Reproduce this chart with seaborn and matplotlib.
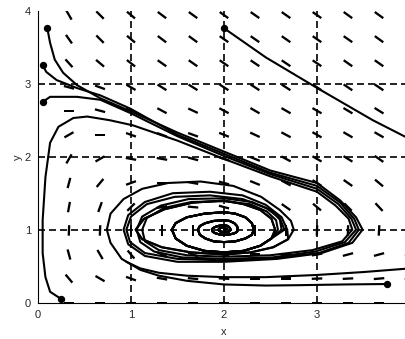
import matplotlib
matplotlib.use("Agg")
import numpy as np
import matplotlib.pyplot as plt
import seaborn as sns

# direction field sample points
field_x = [0, 0.333, 0.667, 1, 1.333, 1.667, 2, 2.333, 2.667, 3, 3.333, 3.667, 4]
field_y = [0, 0.33, 0.66, 0.99, 1.31, 1.64, 1.97, 2.30, 2.63, 2.95, 3.28, 3.61, 3.94]
# angle of each dash on screen (degrees), one row per field_y, bottom row first
field_angle = [
    [90, 0, 0, 0, 0, 0, 0, 0, 0, 0, 0, 0, 0],
    [90, -50, -30, -20, -10, -5, -3, 0, 0, 2, 3, 5, 5],
    [90, -75, -60, -50, -25, -20, -10, 0, 5, 10, 15, 15, 15],
    [90, 88, 88, 90, 90, 90, 90, 90, 90, 88, 88, 87, 87],
    [90, 80, 70, 45, 10, -5, -15, -25, -35, -40, -45, -47, -50],
    [90, 75, 50, 20, 0, -10, -15, -22, -28, -33, -35, -40, -40],
    [90, 60, 30, -10, -10, -15, -18, -22, -28, -30, -32, -35, -35],
    [90, 30, 0, -20, -20, -20, -22, -25, -28, -30, -30, -30, -30],
    [90, 0, -15, -25, -28, -25, -28, -30, -30, -30, -31, -32, -32],
    [90, -15, -20, -30, -32, -32, -33, -33, -33, -33, -34, -34, -34],
    [90, -48, -40, -38, -35, -35, -35, -34, -34, -34, -35, -35, -35],
    [90, -55, -45, -40, -37, -36, -35, -35, -35, -35, -35, -36, -36],
    [90, -60, -45, -40, -37, -36, -36, -35, -35, -35, -36, -36, -36],
]

# initial points
start_x = [0.10, 0.05, 0.05, 0.25, 2.0, 3.75]
start_y = [3.76, 3.25, 2.75, 0.05, 3.76, 0.256]

# inner part of the spiral, shared by the orbits that wind in
core_x = [2.69, 2.53, 2.29, 2.0, 1.64, 1.33, 1.12, 1.05, 1.14, 1.36, 1.66, 2.0, 2.21, 2.39, 2.51, 2.55,
          2.51, 2.39, 2.21, 2.0, 1.79, 1.6, 1.48, 1.44, 1.48, 1.6, 1.79, 2.0, 2.12, 2.23, 2.3, 2.32,
          2.3, 2.23, 2.12, 2.0, 1.89, 1.8, 1.74, 1.72, 1.74, 1.8, 1.89, 2.0, 2.06, 2.11, 2.14, 2.15,
          2.14, 2.11, 2.06, 2.0, 1.95, 1.91, 1.88, 1.87, 1.88, 1.91, 1.95, 2.0, 2.03, 2.05, 2.065, 2.07,
          2.05, 2.0, 1.95, 1.94, 1.96, 2.0, 2.03, 2.0]
core_y = [0.87, 0.76, 0.69, 0.66, 0.69, 0.76, 0.87, 1.0, 1.15, 1.28, 1.37, 1.4, 1.35, 1.27, 1.15, 1.0,
          0.88, 0.78, 0.71, 0.69, 0.71, 0.78, 0.88, 1.0, 1.09, 1.17, 1.22, 1.24, 1.22, 1.17, 1.09, 1.0,
          0.93, 0.88, 0.84, 0.83, 0.84, 0.88, 0.93, 1.0, 1.05, 1.09, 1.12, 1.13, 1.12, 1.09, 1.05, 1.0,
          0.97, 0.95, 0.935, 0.93, 0.935, 0.95, 0.97, 1.0, 1.02, 1.04, 1.055, 1.06, 1.055, 1.04, 1.02, 1.0,
          0.97, 0.965, 0.98, 1.0, 1.03, 1.03, 1.01, 0.99]

orbit_a_x = [0.10, 0.13, 0.18, 0.27, 0.42, 0.67, 1.0, 1.5, 2.0, 2.5, 3.0, 3.25, 3.42, 3.49,
             3.38, 3.05, 2.57, 2.0, 1.5, 1.15, 0.97, 0.92, 0.97, 1.15, 1.45, 1.85, 2.2, 2.45, 2.62, 2.68]
orbit_a_y = [3.76, 3.56, 3.33, 3.15, 2.98, 2.8, 2.62, 2.33, 2.07, 1.81, 1.64, 1.4, 1.17, 1.0,
             0.82, 0.68, 0.6, 0.56, 0.56, 0.64, 0.8, 1.0, 1.2, 1.38, 1.5, 1.52, 1.47, 1.34, 1.17, 1.0]

orbit_b_x = [0.05, 0.09, 0.2, 0.42, 0.67, 0.99, 1.5, 2.0, 2.5, 3.0, 3.25, 3.4, 3.45,
             3.34, 3.02, 2.55, 2.0, 1.5, 1.15, 0.99, 0.95, 1.0, 1.17, 1.47, 1.85, 2.2, 2.45, 2.6, 2.65]
orbit_b_y = [3.25, 3.16, 3.05, 2.94, 2.84, 2.66, 2.3, 2.04, 1.78, 1.6, 1.37, 1.15, 1.0,
             0.82, 0.68, 0.61, 0.58, 0.6, 0.68, 0.83, 1.0, 1.18, 1.35, 1.45, 1.47, 1.42, 1.3, 1.16, 1.0]

orbit_c_x = [0.05, 0.13, 0.42, 0.67, 0.99, 1.5, 2.0, 2.5, 3.0, 3.23, 3.37, 3.42,
             3.3, 2.98, 2.52, 2.0, 1.55, 1.25, 1.1, 1.06, 1.12, 1.32, 1.62, 2.0, 2.3, 2.5, 2.6, 2.62]
orbit_c_y = [2.75, 2.82, 2.82, 2.78, 2.6, 2.28, 2.01, 1.76, 1.56, 1.35, 1.15, 1.0,
             0.83, 0.7, 0.62, 0.6, 0.62, 0.7, 0.83, 1.0, 1.18, 1.33, 1.42, 1.43, 1.38, 1.27, 1.14, 1.0]

orbit_d_x = [0.25, 0.13, 0.08, 0.05, 0.05, 0.08, 0.13, 0.22, 0.38, 0.53, 0.77, 1.02, 1.5, 2.0,
             2.5, 3.0, 3.2, 3.34, 3.38, 3.27, 2.95, 2.5, 2.0, 1.6, 1.3, 1.15, 1.12, 1.17, 1.36,
             1.65, 2.0, 2.28, 2.46, 2.56, 2.58]
orbit_d_y = [0.05, 0.15, 0.35, 0.68, 1.13, 1.72, 2.19, 2.41, 2.53, 2.55, 2.5, 2.43, 2.22, 1.97,
             1.73, 1.52, 1.33, 1.15, 1.0, 0.84, 0.72, 0.65, 0.63, 0.65, 0.72, 0.84, 1.0, 1.16, 1.3,
             1.38, 1.39, 1.35, 1.25, 1.13, 1.0]

orbit_e_x = [2.0, 2.45, 2.99, 3.6, 4.0]
orbit_e_y = [3.76, 3.36, 2.95, 2.5, 2.24]

# outer loop from the lower right start point
orbit_f_x = [3.75, 3.3, 2.8, 2.45, 2.0, 1.6, 1.3, 1.1, 0.9, 0.78, 0.74, 0.78, 0.92, 1.12, 1.4,
             1.75, 2.1, 2.4, 2.6, 2.72, 2.75]
orbit_f_y = [0.256, 0.25, 0.24, 0.235, 0.25, 0.3, 0.37, 0.45, 0.6, 0.82, 1.0, 1.22, 1.42, 1.56, 1.64,
             1.66, 1.6, 1.45, 1.27, 1.12, 1.0]

orbit_g_x = [4.0, 3.5, 3.0, 2.45, 2.0, 1.6, 1.3, 1.1, 0.95]
orbit_g_y = [0.47, 0.42, 0.38, 0.35, 0.35, 0.37, 0.41, 0.47, 0.56]

sns.set_theme(style="white")
plt.rcParams["font.family"] = ["Liberation Sans", "DejaVu Sans"]

fig = plt.figure(figsize=(4.06, 3.39), dpi=100)
ax = fig.add_axes([38 / 406, 36.3 / 339, 372 / 406, 292 / 339])

# dashed reference grid
for v in [1, 2, 3]:
    ax.axvline(v, color="black", lw=1.2, linestyle=(0, (4.2, 2.4)), zorder=1)
    ax.axhline(v, color="black", lw=1.2, linestyle=(0, (4.2, 2.4)), zorder=1)

# direction field
gx, gy = np.meshgrid(field_x, field_y)
ang = np.radians(np.array(field_angle))
ax.quiver(gx, gy, np.cos(ang), np.sin(ang), angles="uv", pivot="middle",
          scale_units="dots", scale=1 / 10.5, units="dots", width=2.3,
          headwidth=0, headlength=0, headaxislength=0, color="black", zorder=2)

# solution curves
for ox, oy in [(orbit_a_x + core_x, orbit_a_y + core_y),
               (orbit_b_x + core_x[16:], orbit_b_y + core_y[16:]),
               (orbit_c_x + core_x[16:], orbit_c_y + core_y[16:]),
               (orbit_d_x + core_x[16:], orbit_d_y + core_y[16:]),
               (orbit_f_x + core_x, orbit_f_y + core_y),
               (orbit_e_x, orbit_e_y), (orbit_g_x, orbit_g_y)]:
    sns.lineplot(x=ox, y=oy, sort=False, estimator=None, color="black", lw=1.5, ax=ax, zorder=3)

sns.scatterplot(x=start_x, y=start_y, color="black", s=28, linewidth=0, ax=ax, zorder=4)

ax.set_xlim(0, 4)
ax.set_ylim(0, 4)
ax.set_xticks([0, 1, 2, 3, 4])
ax.set_yticks([0, 1, 2, 3, 4])
ax.tick_params(direction="in", length=3, width=0.8, color="black", labelsize=8, pad=5)
for s in ["top", "right"]:
    ax.spines[s].set_visible(False)
for s in ["left", "bottom"]:
    ax.spines[s].set_color("black")
    ax.spines[s].set_linewidth(0.8)
ax.set_xlabel("x", fontsize=8, labelpad=5)
ax.set_ylabel("y", fontsize=8, labelpad=1)

fig.savefig("out.png", dpi=100)
